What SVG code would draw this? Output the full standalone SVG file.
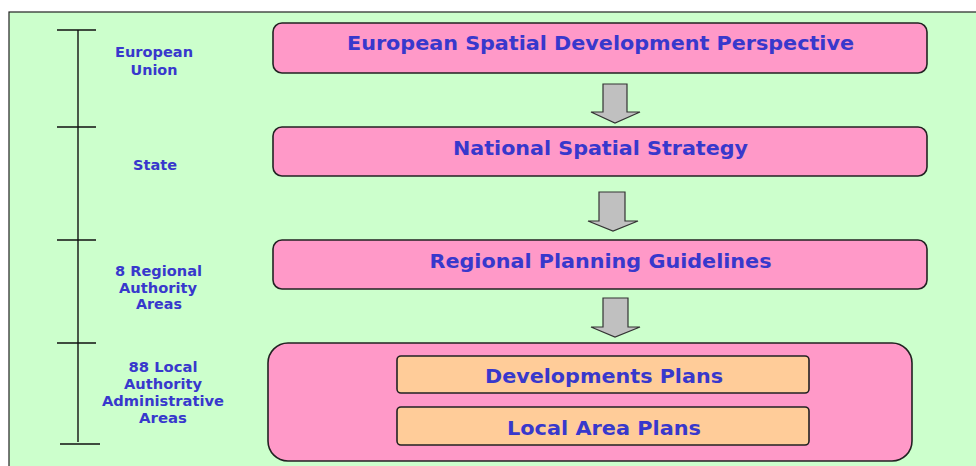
<svg xmlns="http://www.w3.org/2000/svg" width="976" height="466" viewBox="0 0 976 466">
<style>
.t{font-family:"DejaVu Sans","Liberation Sans",sans-serif;font-weight:bold;fill:#3838cc;text-anchor:middle}
.big{font-size:19.5px}
.sm{font-size:13.5px}
.box{fill:#ff99c8;stroke:#222;stroke-width:1.6}
.inner{fill:#ffcc99;stroke:#222;stroke-width:1.6}
.arr{fill:#c0c0c0;stroke:#333;stroke-width:1.2;stroke-linejoin:miter}
.tl{stroke:#111;stroke-width:1.4;fill:none}
</style>
<rect x="0" y="0" width="976" height="466" fill="#ffffff"/>
<rect x="9" y="12" width="980" height="470" fill="#ccffcc" stroke="#222" stroke-width="1.2"/>
<g id="timeline">
<line class="tl" x1="78" y1="30" x2="78" y2="442"/>
<line class="tl" x1="57" y1="30" x2="96" y2="30"/>
<line class="tl" x1="57" y1="127" x2="96" y2="127"/>
<line class="tl" x1="57" y1="240" x2="96" y2="240"/>
<line class="tl" x1="57" y1="343" x2="96" y2="343"/>
<line class="tl" x1="60" y1="444" x2="100" y2="444"/>
</g>
<g id="lbl-eu">
<text class="t sm" x="154" y="57" textLength="78" lengthAdjust="spacingAndGlyphs">European</text>
<text class="t sm" x="154" y="75" textLength="47" lengthAdjust="spacingAndGlyphs">Union</text>
</g>
<g id="lbl-state">
<text class="t sm" x="155" y="170" textLength="44" lengthAdjust="spacingAndGlyphs">State</text>
</g>
<g id="lbl-regional">
<text class="t sm" x="158.5" y="276" textLength="87" lengthAdjust="spacingAndGlyphs">8 Regional</text>
<text class="t sm" x="158" y="293" textLength="78" lengthAdjust="spacingAndGlyphs">Authority</text>
<text class="t sm" x="159" y="309" textLength="46" lengthAdjust="spacingAndGlyphs">Areas</text>
</g>
<g id="lbl-local">
<text class="t sm" x="163" y="372" textLength="69" lengthAdjust="spacingAndGlyphs">88 Local</text>
<text class="t sm" x="163" y="389" textLength="78" lengthAdjust="spacingAndGlyphs">Authority</text>
<text class="t sm" x="163" y="406" textLength="122" lengthAdjust="spacingAndGlyphs">Administrative</text>
<text class="t sm" x="163" y="423" textLength="48" lengthAdjust="spacingAndGlyphs">Areas</text>
</g>
<g id="espd">
<rect class="box" x="273" y="23" width="654" height="50" rx="9"/>
<text class="t big" x="600.5" y="50" textLength="507" lengthAdjust="spacingAndGlyphs">European Spatial Development Perspective</text>
</g>
<g id="nss">
<rect class="box" x="273" y="127" width="654" height="49" rx="9"/>
<text class="t big" x="600.5" y="155" textLength="295" lengthAdjust="spacingAndGlyphs">National Spatial Strategy</text>
</g>
<g id="rpg">
<rect class="box" x="273" y="240" width="654" height="49" rx="9"/>
<text class="t big" x="600.5" y="268" textLength="342" lengthAdjust="spacingAndGlyphs">Regional Planning Guidelines</text>
</g>
<g id="local">
<rect class="box" x="268" y="343" width="644" height="118" rx="20"/>
<g id="dev-plans">
<rect class="inner" x="397" y="356" width="412" height="37" rx="4"/>
<text class="t big" x="604" y="383" textLength="238" lengthAdjust="spacingAndGlyphs">Developments Plans</text>
</g>
<g id="lap">
<rect class="inner" x="397" y="407" width="412" height="38" rx="4"/>
<text class="t big" x="604" y="435" textLength="194" lengthAdjust="spacingAndGlyphs">Local Area Plans</text>
</g>
</g>
<g id="connectors">
<path class="arr" d="M603,84 H627 V112 H640 L615,123 L591,112 H603 Z"/>
<path class="arr" d="M599,192 H625 V221 H638 L613,231 L588,221 H599 Z"/>
<path class="arr" d="M603,298 H628 V327 H640 L615,337 L591,327 H603 Z"/>
</g>
</svg>
